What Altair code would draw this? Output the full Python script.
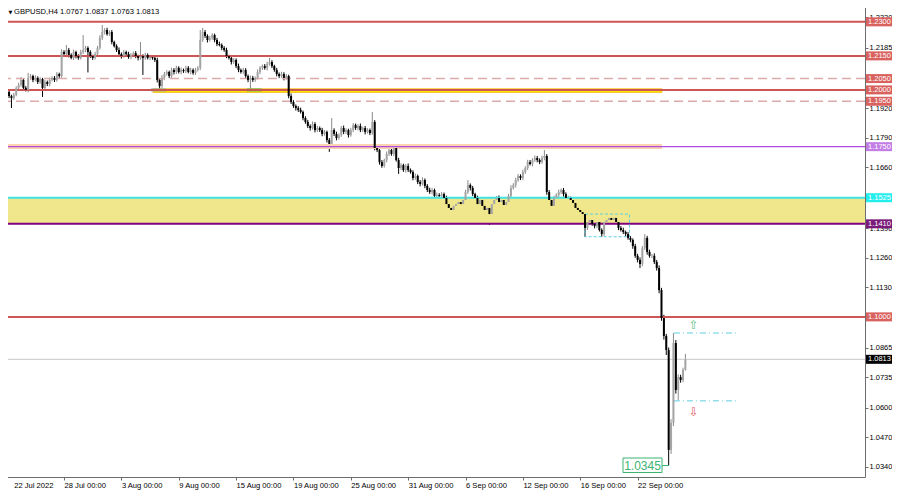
import altair as alt
import pandas as pd

FONT = "Liberation Sans"
symbol = "GBPUSD,H4"
first_open = 1.2000

closes = [
    1.1991, 1.1973, 1.1964, 1.1978, 1.2009, 1.2022, 1.2044, 1.2009, 1.2000, 1.2053,
    1.2061, 1.2044, 1.2053, 1.2035, 1.2048, 1.2009, 1.2035, 1.2026, 1.2044, 1.2053,
    1.2044, 1.2070, 1.2061, 1.2167, 1.2158, 1.2176, 1.2154, 1.2141, 1.2167, 1.2149,
    1.2141, 1.2167, 1.2176, 1.2185, 1.2167, 1.2149, 1.2141, 1.2158, 1.2185, 1.2229,
    1.2255, 1.2264, 1.2246, 1.2255, 1.2211, 1.2193, 1.2176, 1.2158, 1.2149, 1.2167,
    1.2158, 1.2145, 1.2154, 1.2162, 1.2149, 1.2141, 1.2149, 1.2141, 1.2154, 1.2141,
    1.2145, 1.2141, 1.2132, 1.2044, 1.2017, 1.2053, 1.2070, 1.2079, 1.2061, 1.2088,
    1.2079, 1.2097, 1.2079, 1.2088, 1.2083, 1.2097, 1.2079, 1.2088, 1.2075, 1.2088,
    1.2097, 1.2220, 1.2255, 1.2238, 1.2220, 1.2229, 1.2242, 1.2220, 1.2202, 1.2198,
    1.2185, 1.2176, 1.2149, 1.2141, 1.2123, 1.2132, 1.2105, 1.2088, 1.2079, 1.2088,
    1.2061, 1.2044, 1.2053, 1.2044, 1.2053, 1.2079, 1.2097, 1.2105, 1.2097, 1.2114,
    1.2123, 1.2105, 1.2088, 1.2070, 1.2061, 1.2070, 1.2053, 1.2061, 1.1973, 1.1947,
    1.1929, 1.1920, 1.1912, 1.1903, 1.1876, 1.1859, 1.1841, 1.1832, 1.1850, 1.1823,
    1.1832, 1.1823, 1.1806, 1.1815, 1.1779, 1.1762, 1.1823, 1.1806, 1.1788, 1.1801,
    1.1832, 1.1815, 1.1823, 1.1801, 1.1823, 1.1845, 1.1832, 1.1841, 1.1823, 1.1832,
    1.1815, 1.1823, 1.1810, 1.1859, 1.1744, 1.1735, 1.1682, 1.1665, 1.1691, 1.1718,
    1.1735, 1.1718, 1.1744, 1.1691, 1.1656, 1.1669, 1.1647, 1.1665, 1.1647, 1.1638,
    1.1612, 1.1621, 1.1594, 1.1586, 1.1603, 1.1577, 1.1559, 1.1550, 1.1559, 1.1533,
    1.1537, 1.1533, 1.1541, 1.1524, 1.1497, 1.1480, 1.1471, 1.1489, 1.1497, 1.1506,
    1.1497, 1.1515, 1.1550, 1.1581, 1.1568, 1.1541, 1.1524, 1.1497, 1.1515, 1.1489,
    1.1471, 1.1480, 1.1453, 1.1497, 1.1515, 1.1524, 1.1506, 1.1515, 1.1493, 1.1506,
    1.1533, 1.1568, 1.1581, 1.1603, 1.1621, 1.1612, 1.1638, 1.1656, 1.1682, 1.1674,
    1.1691, 1.1700, 1.1691, 1.1682, 1.1700, 1.1709, 1.1550, 1.1515, 1.1489, 1.1524,
    1.1537, 1.1550, 1.1559, 1.1541, 1.1524, 1.1524, 1.1515, 1.1502, 1.1480, 1.1471,
    1.1462, 1.1453, 1.1392, 1.1418, 1.1427, 1.1409, 1.1400, 1.1418, 1.1383, 1.1365,
    1.1418, 1.1427, 1.1436, 1.1427, 1.1436, 1.1418, 1.1392, 1.1383, 1.1374, 1.1365,
    1.1348, 1.1339, 1.1312, 1.1269, 1.1251, 1.1233, 1.1304, 1.1348, 1.1286, 1.1269,
    1.1269, 1.1242, 1.1215, 1.1118, 1.0995, 1.0916, 1.0854, 1.0414, 1.0533, 1.0885,
    1.0678, 1.0735, 1.0722, 1.0767, 1.0813,
]

upper_wick_pips = [
    5, 8, 6, 9, 7, 10, 13, 6, 8, 22,
    9, 6, 11, 7, 8, 5, 9, 6, 10, 7,
    8, 9, 6, 12, 8, 22, 9, 7, 11, 6,
    8, 10, 66, 9, 7, 8, 6, 10, 9, 12,
    31, 8, 10, 7, 9, 6, 8, 11, 7, 9,
    6, 10, 8, 7, 9, 6, 62, 8, 10, 7,
    9, 6, 8, 10, 7, 12, 9, 8, 6, 10,
    8, 9, 7, 11, 6, 9, 8, 10, 7, 9,
    8, 44, 18, 9, 7, 10, 8, 6, 9, 11,
    7, 8, 10, 6, 9, 8, 7, 11, 6, 9,
    8, 7, 10, 9, 6, 11, 8, 7, 9, 10,
    18, 8, 6, 9, 7, 10, 8, 9, 6, 11,
    8, 7, 9, 10, 6, 8, 9, 7, 11, 8,
    9, 7, 10, 8, 6, 9, 53, 8, 10, 7,
    9, 11, 8, 6, 10, 9, 7, 8, 11, 6,
    9, 8, 7, 44, 8, 10, 7, 9, 6, 11,
    8, 9, 15, 7, 10, 8, 6, 9, 11, 7,
    8, 10, 6, 9, 12, 7, 8, 10, 9, 6,
    11, 8, 9, 7, 10, 6, 8, 9, 11, 7,
    9, 8, 10, 22, 7, 9, 6, 10, 8, 11,
    7, 9, 8, 10, 6, 9, 11, 7, 8, 10,
    9, 12, 8, 10, 9, 7, 11, 8, 10, 9,
    8, 11, 9, 7, 10, 26, 8, 9, 6, 10,
    8, 11, 7, 9, 8, 10, 6, 9, 8, 7,
    10, 8, 9, 11, 7, 8, 10, 9, 12, 7,
    9, 26, 8, 10, 22, 9, 7, 8, 10, 6,
    9, 8, 7, 10, 9, 11, 8, 17, 9, 10,
    8, 11, 9, 12, 10, 14, 9, 11, 16, 44,
    13, 12, 10, 9, 24,
]

lower_wick_pips = [
    7, 9, 44, 8, 6, 10, 8, 9, 7, 11,
    8, 10, 6, 9, 8, 40, 7, 9, 10, 6,
    9, 8, 10, 7, 9, 8, 11, 6, 9, 10,
    8, 7, 9, 10, 90, 8, 9, 7, 10, 8,
    9, 11, 7, 8, 10, 6, 9, 8, 11, 7,
    9, 8, 10, 7, 9, 11, 8, 75, 9, 7,
    10, 8, 9, 11, 17, 8, 10, 7, 9, 8,
    11, 9, 7, 10, 8, 9, 6, 10, 8, 9,
    7, 10, 8, 9, 11, 7, 8, 10, 9, 6,
    10, 8, 9, 7, 11, 8, 9, 10, 7, 9,
    8, 10, 40, 9, 8, 7, 10, 9, 8, 11,
    7, 9, 8, 10, 9, 7, 11, 8, 10, 9,
    8, 11, 9, 7, 10, 8, 9, 11, 7, 10,
    9, 8, 10, 7, 11, 35, 8, 9, 10, 7,
    8, 10, 9, 11, 7, 9, 8, 10, 9, 8,
    11, 7, 9, 8, 10, 9, 11, 8, 7, 10,
    9, 8, 10, 7, 26, 9, 8, 11, 9, 7,
    10, 8, 9, 11, 7, 10, 9, 8, 10, 9,
    8, 31, 9, 10, 7, 11, 22, 9, 8, 10,
    9, 7, 10, 8, 11, 9, 8, 10, 7, 9,
    10, 8, 48, 9, 7, 10, 8, 11, 9, 8,
    10, 9, 7, 11, 8, 9, 10, 8, 9, 7,
    11, 8, 10, 9, 7, 10, 12, 9, 11, 8,
    9, 10, 8, 11, 7, 9, 10, 8, 9, 11,
    8, 10, 40, 9, 11, 8, 10, 9, 7, 12,
    9, 8, 10, 11, 9, 8, 10, 7, 9, 11,
    8, 10, 12, 9, 11, 18, 10, 9, 12, 8,
    10, 9, 11, 14, 12, 16, 22, 69, 18, 14,
    16, 44, 12, 10, 4,
]

date_labels = ["22 Jul 2022", "28 Jul 00:00", "3 Aug 00:00", "9 Aug 00:00", "15 Aug 00:00",
               "19 Aug 00:00", "25 Aug 00:00", "31 Aug 00:00", "6 Sep 00:00", "12 Sep 00:00",
               "16 Sep 00:00", "22 Sep 00:00"]
date_label_bars = [0, 24, 48, 72, 96, 120, 144, 168, 192, 216, 240, 264]
price_ticks = [1.2320, 1.2185, 1.2050, 1.1920, 1.1790, 1.1660, 1.1525, 1.1390,
               1.1260, 1.1130, 1.1000, 1.0865, 1.0735, 1.0600, 1.0470, 1.0340]

level_prices = [1.2300, 1.2150, 1.2050, 1.2000, 1.1950, 1.1750, 1.1525, 1.1410, 1.1000]
level_colors = ["#cc5555", "#cc5555", "#dcaaaa", "#cc5555", "#dcaaaa", "#b04ee0", "#3fe3e3", "#800080", "#cc5555"]
level_widths = [2, 2, 1.5, 2, 1.5, 1.2, 2, 2, 2]
level_dashed = [False, False, True, False, True, False, False, False, False]
level_label_bg = ["#d9625f", "#d9625f", "#d9625f", "#d9625f", "#d9625f", "#c27de6", "#22eeee", "#7a1a7a", "#d9625f"]

zone_low, zone_high = 1.1410, 1.1525
band_1750 = [1.1740, 1.1762]
band_1750_bars = [-3, 274.2]
band_2000 = [1.1989, 1.2005]
band_2000_bars = [61.2, 274.2]
touch_marks_bars = [[60.4, 66.6], [100.5, 106.7]]
touch_marks_colors = ["#86b6b0", "#5cbf5c"]
sep_box_bars = [242.0, 260.6]
sep_box_prices = [1.1353, 1.1453]
signal_levels = [1.0929, 1.0630]
signal_bars = [[279.2, 305.2], [279.2, 306.0]]
arrow_bar = 287.5

# ---------- data frames ----------
n = len(closes)
opens = [first_open] + closes[:-1]
highs = [round(max(o, c) + u / 10000, 4) for o, c, u in zip(opens, closes, upper_wick_pips)]
lows = [round(min(o, c) - d / 10000, 4) for o, c, d in zip(opens, closes, lower_wick_pips)]
candles = pd.DataFrame({"bar": list(range(n)), "open": opens, "high": highs, "low": lows, "close": closes})
candles["wick_col"] = ["#8a8a8a" if c >= o else "#000000" for o, c in zip(opens, closes)]
candles["body_col"] = ["#a4a4a4" if c >= o else "#000000" for o, c in zip(opens, closes)]

X = alt.Scale(domain=[-0.70, 357.06], nice=False, zero=False)
Y = alt.Scale(domain=[1.02945, 1.23962], nice=False, zero=False)

label_expr = "[" + ",".join("'" + s + "'" for s in date_labels) + "][round(datum.value / 24)]"
x_axis = alt.Axis(orient="bottom", values=date_label_bars, labelExpr=label_expr, title=None, grid=False,
                  tickSize=3, labelPadding=1, labelAlign="left", labelBaseline="top", labelFontSize=7.6,
                  labelFont=FONT, labelColor="#000000", domainColor="#6e6e6e", tickColor="#6e6e6e",
                  labelFlush=False, labelOverlap=False,
                  labelOffset={"condition": {"test": "datum.value == 0", "value": 7}, "value": 0})
y_axis = alt.Axis(orient="right", values=price_ticks, format=".4f", title=None, grid=False,
                  tickSize=3, labelPadding=1, labelFontSize=7.5, labelFont=FONT, labelColor="#000000",
                  domainColor="#6e6e6e", tickColor="#6e6e6e", labelFlush=False, labelOverlap=False,
                  labelBaseline="middle")


def XF(field):
    return alt.X(field, type="quantitative", scale=X, axis=x_axis)


def YF(field):
    return alt.Y(field, type="quantitative", scale=Y, axis=y_axis)


one = pd.DataFrame({"k": [0]})

zone = alt.Chart(pd.DataFrame({"lo": [zone_low], "hi": [zone_high]})).mark_rect(color="#f0e68c").encode(
    x=alt.value(0), x2=alt.value("width"), y=YF("lo"), y2="hi:Q")

peach = alt.Chart(pd.DataFrame({"b0": [band_1750_bars[0]], "b1": [band_1750_bars[1]],
                                "lo": [band_1750[0]], "hi": [band_1750[1]]})).mark_rect(
    color="#fbd3b0", clip=True).encode(x=XF("b0"), x2="b1:Q", y=YF("lo"), y2="hi:Q")

yellow = alt.Chart(pd.DataFrame({"b0": [band_2000_bars[0]], "b1": [band_2000_bars[1]],
                                 "lo": [band_2000[0]], "hi": [band_2000[1]]})).mark_rect(
    fill="#ffe600", stroke="#f2b000", strokeWidth=0.7).encode(x=XF("b0"), x2="b1:Q", y=YF("lo"), y2="hi:Q")

touch = alt.Chart(pd.DataFrame({"b0": [t[0] for t in touch_marks_bars], "b1": [t[1] for t in touch_marks_bars],
                                "p": [1.2000, 1.2000], "c": touch_marks_colors})).mark_rule(strokeWidth=3).encode(
    x=XF("b0"), x2="b1:Q", y=YF("p"), color=alt.Color("c:N", scale=None))

levels = pd.DataFrame({"p": level_prices, "c": level_colors, "w": level_widths, "dashed": level_dashed,
                       "bg": level_label_bg})
solid_lines = alt.Chart(levels[~levels["dashed"]]).mark_rule().encode(
    y=YF("p"), color=alt.Color("c:N", scale=None), strokeWidth=alt.StrokeWidth("w:Q", scale=None))
dashed_lines = alt.Chart(levels[levels["dashed"]]).mark_rule(strokeDash=[9, 5]).encode(
    y=YF("p"), color=alt.Color("c:N", scale=None), strokeWidth=alt.StrokeWidth("w:Q", scale=None))

last_close = closes[-1]
cur_line = alt.Chart(pd.DataFrame({"p": [last_close]})).mark_rule(color="#c8c8c8", strokeWidth=1).encode(
    y=YF("p"))

sep_box = alt.Chart(pd.DataFrame({"b0": [sep_box_bars[0]], "b1": [sep_box_bars[1]],
                                  "lo": [sep_box_prices[0]], "hi": [sep_box_prices[1]]})).mark_rect(
    fillOpacity=0, stroke="#5ccfe0", strokeWidth=1, strokeDash=[3, 2]).encode(
    x=XF("b0"), x2="b1:Q", y=YF("lo"), y2="hi:Q")

signals = alt.Chart(pd.DataFrame({"b0": [s[0] for s in signal_bars], "b1": [s[1] for s in signal_bars],
                                  "p": signal_levels})).mark_rule(
    color="#5ccfe0", strokeWidth=1, strokeDash=[6, 3, 1, 3]).encode(x=XF("b0"), x2="b1:Q", y=YF("p"))

wicks = alt.Chart(candles).mark_rule(strokeWidth=1).encode(
    x=XF("bar"), y=YF("low"), y2="high:Q", color=alt.Color("wick_col:N", scale=None))
bodies = alt.Chart(candles).mark_bar(size=2).encode(
    x=XF("bar"), y=YF("open"), y2="close:Q", color=alt.Color("body_col:N", scale=None))

up_arrow = alt.Chart(pd.DataFrame({"b": [arrow_bar], "p": [signal_levels[0]], "t": ["\u21e7"]})).mark_text(
    fontSize=12, color="#5cbf86", dy=-8, font="DejaVu Sans").encode(x=XF("b"), y=YF("p"), text="t:N")
dn_arrow = alt.Chart(pd.DataFrame({"b": [arrow_bar], "p": [signal_levels[1]], "t": ["\u21e9"]})).mark_text(
    fontSize=12, color="#e05a5a", dy=11, font="DejaVu Sans").encode(x=XF("b"), y=YF("p"), text="t:N")

low_idx = lows.index(min(lows))
low_df = pd.DataFrame({"b": [low_idx], "p": [min(lows)], "t": [f"{min(lows):.4f}"]})
low_box = alt.Chart(one).mark_rect(fill="#ffffff", stroke="#3cb371", strokeWidth=1).encode(
    x=alt.value(623), x2=alt.value(662), y=alt.value(458), y2=alt.value(472.5))
low_conn = alt.Chart(low_df).mark_rule(color="#3cb371", strokeWidth=1).encode(
    x=alt.value(662), x2=alt.value(669), y=YF("p"))
low_text = alt.Chart(low_df).mark_text(fontSize=12, color="#3cb371", font=FONT, align="center",
                                       baseline="middle").encode(x=alt.value(642.5), y=YF("p"), text="t:N")

tag_df = pd.DataFrame({"p": level_prices + [last_close], "bg": level_label_bg + ["#000000"]})
tag_df["t"] = [f"{p:.4f}" for p in tag_df["p"]]
tag_box = alt.Chart(tag_df).mark_rule(strokeWidth=9).encode(
    x=alt.value(866), x2=alt.value(892), y=YF("p"), color=alt.Color("bg:N", scale=None))
tag_text = alt.Chart(tag_df).mark_text(fontSize=7.5, color="#ffffff", font=FONT, align="left",
                                       baseline="middle").encode(x=alt.value(868), y=YF("p"), text="t:N")

title_str = f"{symbol}  {opens[-1]:.4f} {highs[-1]:.4f} {lows[-1]:.4f} {closes[-1]:.4f}"
title_text = alt.Chart(pd.DataFrame({"t": [title_str]})).mark_text(
    fontSize=7.6, color="#000000", font=FONT, align="left", baseline="middle").encode(
    x=alt.value(14), y=alt.value(12), text="t:N")
title_tri = alt.Chart(pd.DataFrame({"t": ["\u25bc"]})).mark_text(
    fontSize=5, color="#000000", font="DejaVu Sans", align="left", baseline="middle").encode(
    x=alt.value(8.5), y=alt.value(12), text="t:N")

chart = alt.layer(
    wicks, zone, peach, yellow, touch, solid_lines, dashed_lines, cur_line, sep_box, signals,
    bodies, up_arrow, dn_arrow, low_conn, low_box, low_text, tag_box, tag_text,
    title_text, title_tri,
).properties(
    width=865, height=477,
    autosize=alt.AutoSizeParams(type="none"),
    padding={"left": -8, "top": -8, "right": 27, "bottom": 14},
    background="#ffffff",
).configure_view(stroke=None)

chart.save("out.html", embed_options={"renderer": "svg", "actions": False})
